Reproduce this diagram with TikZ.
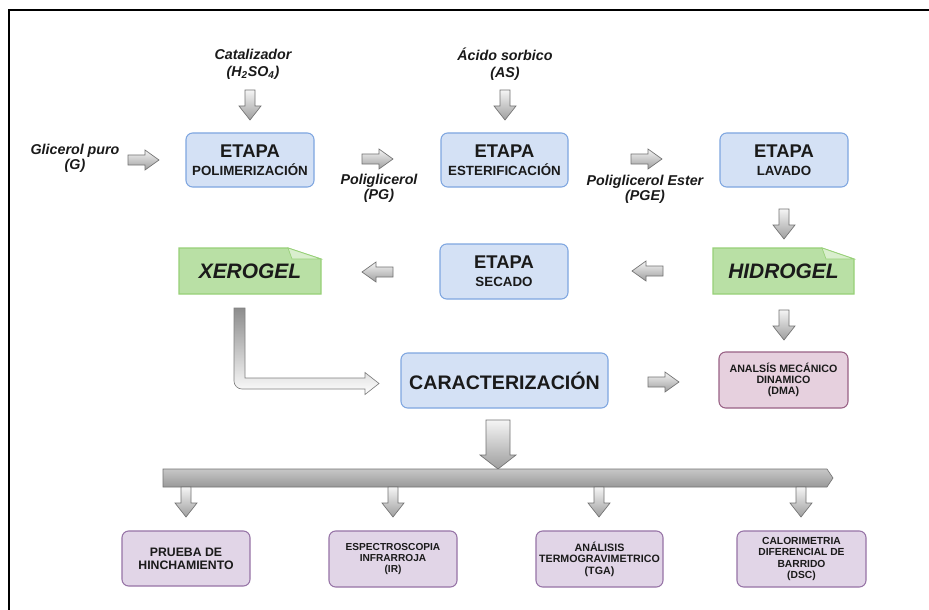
\documentclass[tikz,border=0pt]{standalone}
\usepackage{fontspec}
\setmainfont{Liberation Sans}
\definecolor{bluefill}{HTML}{D4E1F5}
\definecolor{bluedraw}{HTML}{7EA6E0}
\definecolor{greenfill}{HTML}{B9E0A5}
\definecolor{greendraw}{HTML}{97D077}
\definecolor{pinkfill}{HTML}{E6D0DE}
\definecolor{pinkdraw}{HTML}{996185}
\definecolor{purpfill}{HTML}{E1D5E7}
\definecolor{purpdraw}{HTML}{9673A6}
\definecolor{txt}{HTML}{1A1A1A}
\newcommand\fs[2]{\fontsize{#1}{#2}\selectfont}
\newcommand\arrR[2]{\path[blockarr] (#1,#2) ++(0,-5) -- ++(17,0) -- ++(0,-5) -- ++(14,10) -- ++(-14,10) -- ++(0,-5) -- ++(-17,0) -- cycle;}
\newcommand\arrL[2]{\path[blockarr] (#1,#2) -- ++(14,-10) -- ++(0,5) -- ++(17,0) -- ++(0,10) -- ++(-17,0) -- ++(0,5) -- cycle;}
\newcommand\arrD[2]{\path[blockarr] (#1,#2) ++(-5,0) -- ++(10,0) -- ++(0,16) -- ++(6,0) -- ++(-11,14) -- ++(-11,-14) -- ++(6,0) -- cycle;}
\begin{document}
\begin{tikzpicture}[x=0.75pt,y=-0.75pt,
  every node/.style={text=txt, inner sep=0pt},
  sz/.style 2 args={minimum width={#1*0.75pt}, minimum height={#2*0.75pt}},
  stage/.style={draw=bluedraw, fill=bluefill, rounded corners=5pt, line width=0.8pt, align=center, font=\fs{10}{13.5}\bfseries},
  pinkbox/.style={draw=pinkdraw, fill=pinkfill, rounded corners=5pt, line width=0.8pt, align=center},
  purpbox/.style={draw=purpdraw, fill=purpfill, rounded corners=5pt, line width=0.8pt, align=center},
  notebox/.style={draw=greendraw, fill=greenfill, line width=0.8pt},
  notefold/.style={draw=greendraw, fill=greenfill!55!white, line width=0.5pt},
  lbl/.style={align=center, font=\fs{10.7}{11.25}\bfseries\itshape},
  blockarr/.style={draw=black!55, line width=0.5pt, top color=black!4, bottom color=black!38},
]
\useasboundingbox (0,0) rectangle (929,610);
\fill[white] (0,0) rectangle (929,610);
\draw[line width=0.9pt] (9,610) -- (9,10) -- (929,10);

% top row
\node[stage, sz={128}{54}] (pol) at (250,160) {{\fs{13.8}{13.8}ETAPA}\\POLIMERIZACIÓN};
\node[stage, sz={127}{54}] (est) at (504.5,160) {{\fs{13.8}{13.8}ETAPA}\\ESTERIFICACIÓN};
\node[stage, sz={128}{54}] (lav) at (784,160) {{\fs{13.8}{13.8}ETAPA}\\LAVADO};

\node[lbl, font=\fs{10.7}{12.75}\bfseries\itshape] (cat) at (253,64) {Catalizador\\(H\textsubscript{2}SO\textsubscript{4})};
\node[lbl, font=\fs{10.7}{12.75}\bfseries\itshape] (as) at (505,64) {Ácido sorbico\\(AS)};
\node[lbl] (gli) at (75,158) {Glicerol puro\\(G)};
\node[lbl] (pg) at (379,188) {Poliglicerol\\(PG)};
\node[lbl] (pge) at (645,189) {Poliglicerol Ester\\(PGE)};

\arrD{250}{90}
\arrD{505}{90}
\arrR{128}{160}
\arrR{362}{159}
\arrR{631}{159}
\arrD{784}{209}

% second row
\node[stage, sz={128}{55}] (sec) at (504,271.5) {{\fs{13.8}{13.8}ETAPA}\\SECADO};
\path[notebox] (713,248) -- (822,248) -- (854,259) -- (854,294) -- (713,294) -- cycle;
\path[notefold] (822,248) -- (826,259) -- (854,259) -- cycle;
\node[sz={141}{46}, font=\fs{15.7}{16}\bfseries\itshape] (hid) at (783.5,271) {HIDROGEL};
\path[notebox] (179,248) -- (288,248) -- (321,259) -- (321,294) -- (179,294) -- cycle;
\path[notefold] (288,248) -- (292,259) -- (321,259) -- cycle;
\node[sz={142}{46}, font=\fs{15.7}{16}\bfseries\itshape] (xer) at (250,271) {XEROGEL};
\arrL{632}{271}
\arrL{362}{272}
\arrD{784}{310}

% third row
\node[stage, sz={207}{55}, font=\fs{14.7}{15}\bfseries] (car) at (504.5,380.5) {CARACTERIZACIÓN};
\node[pinkbox, sz={129}{56}, font=\fs{8}{8.25}\bfseries] (dma) at (783.5,380) {ANALSÍS MECÁNICO\\DINAMICO\\(DMA)};
\arrR{648}{382}
\path[draw=black!50, line width=0.5pt, top color=black!45, bottom color=white]
  (234,308) -- (245,308) -- (245,378) -- (365,378) -- (365,372.5) -- (379,383.5)
  -- (365,394.5) -- (365,389) -- (242,389) .. controls (237.6,389) and (234,385.4) .. (234,381) -- cycle;

% distribution bar
\path[blockarr] (486,420) -- (510,420) -- (510,455) -- (516,455) -- (498,469) -- (480,455) -- (486,455) -- cycle;
\path[draw=black!55, line width=0.5pt, top color=black!22, middle color=black!3, bottom color=black!40]
  (163,469) -- (827,469) -- (833,478) -- (827,487) -- (163,487) -- cycle;
\arrD{186}{487}
\arrD{393}{487}
\arrD{599}{487}
\arrD{801}{487}

% bottom row
\node[purpbox, sz={128}{55}, font=\fs{9.2}{9.75}\bfseries] (b1) at (186,558.5) {PRUEBA DE\\HINCHAMIENTO};
\node[purpbox, sz={128}{56}, font=\fs{7.6}{8.6}\bfseries] (b2) at (393,559) {ESPECTROSCOPIA\\INFRARROJA\\(IR)};
\node[purpbox, sz={127}{56}, font=\fs{8}{8.6}\bfseries] (b3) at (599.5,559) {ANÁLISIS\\TERMOGRAVIMETRICO\\(TGA)};
\node[purpbox, sz={129}{56}, font=\fs{7.7}{8.7}\bfseries] (b4) at (801.5,559) {CALORIMETRIA\\DIFERENCIAL DE\\BARRIDO\\(DSC)};
\end{tikzpicture}
\end{document}
